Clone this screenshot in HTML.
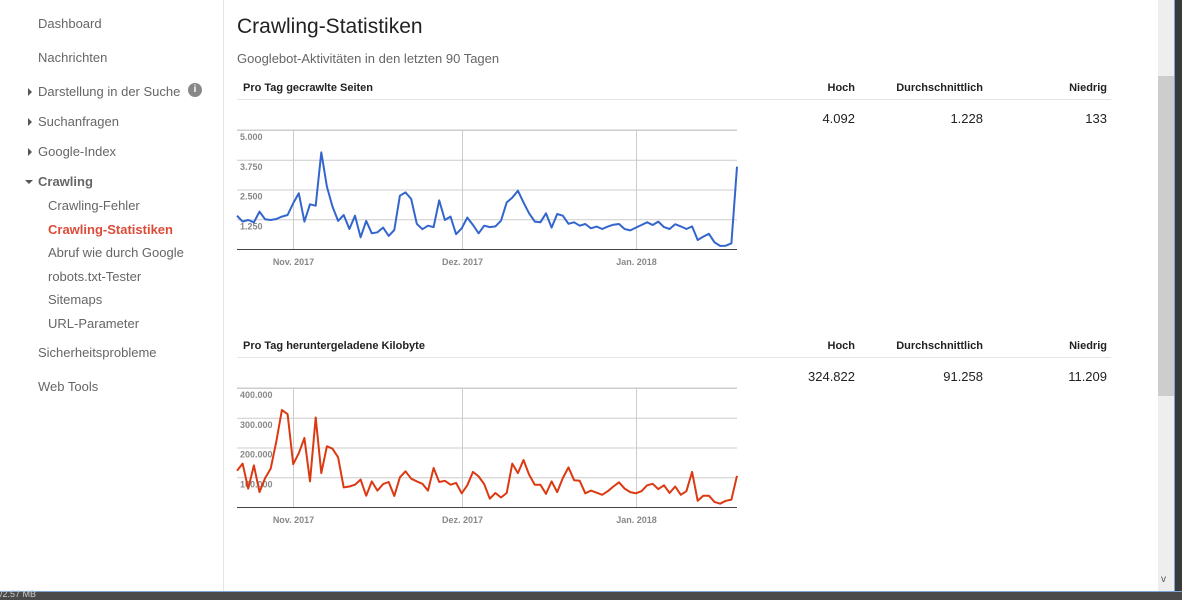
<!DOCTYPE html>
<html><head><meta charset="utf-8"><style>
body{margin:0;width:1182px;height:599px;overflow:hidden;background:#fff;font-family:"Liberation Sans",Arial,sans-serif;position:relative}
.abs{position:absolute}
.nav{color:#666;font-size:13px;white-space:nowrap}
.sub{color:#666;font-size:13px}
.hdr{font-size:11px;font-weight:bold;color:#222}
.num{font-size:13px;color:#222;text-align:right}
.tri{width:0;height:0;border-top:4px solid transparent;border-bottom:4px solid transparent;border-left:4px solid #555}
</style></head><body>
<div class="abs" style="left:0;top:0;width:223px;height:591px;border-right:1px solid #e5e5e5"></div>
<div class="abs nav" style="left:38px;top:16px">Dashboard</div>
<div class="abs nav" style="left:38px;top:50px">Nachrichten</div>
<div class="abs tri" style="left:28px;top:88px"></div>
<div class="abs nav" style="left:38px;top:84px">Darstellung in der Suche</div>
<div class="abs" style="left:188px;top:83px;width:14px;height:14px;border-radius:7px;background:#888;color:#fff;font-size:10px;font-weight:bold;text-align:center;line-height:14px">i</div>
<div class="abs tri" style="left:28px;top:118px"></div>
<div class="abs nav" style="left:38px;top:114px">Suchanfragen</div>
<div class="abs tri" style="left:28px;top:148px"></div>
<div class="abs nav" style="left:38px;top:144px">Google-Index</div>
<div class="abs" style="left:25px;top:180px;width:0;height:0;border-left:4px solid transparent;border-right:4px solid transparent;border-top:4px solid #555"></div>
<div class="abs nav" style="left:38px;top:174px;font-weight:bold">Crawling</div>
<div class="abs sub" style="left:48px;top:198px">Crawling-Fehler</div>
<div class="abs sub" style="left:48px;top:222px;color:#dd4b39;font-weight:bold">Crawling-Statistiken</div>
<div class="abs sub" style="left:48px;top:245px">Abruf wie durch Google</div>
<div class="abs sub" style="left:48px;top:269px">robots.txt-Tester</div>
<div class="abs sub" style="left:48px;top:292px">Sitemaps</div>
<div class="abs sub" style="left:48px;top:316px">URL-Parameter</div>
<div class="abs nav" style="left:38px;top:345px">Sicherheitsprobleme</div>
<div class="abs nav" style="left:38px;top:379px">Web Tools</div>

<div class="abs" style="left:237px;top:15px;font-size:21px;color:#222">Crawling-Statistiken</div>
<div class="abs" style="left:237px;top:51px;font-size:13px;color:#666">Googlebot-Aktivitäten in den letzten 90 Tagen</div>

<div class="abs hdr" style="left:243px;top:82px">Pro Tag gecrawlte Seiten</div>
<div class="abs hdr" style="left:780px;top:82px;width:75px;text-align:right">Hoch</div>
<div class="abs hdr" style="left:860px;top:82px;width:123px;text-align:right">Durchschnittlich</div>
<div class="abs hdr" style="left:1000px;top:82px;width:107px;text-align:right">Niedrig</div>
<div class="abs" style="left:237px;top:99px;width:874px;height:1px;background:#e5e5e5"></div>
<div class="abs num" style="left:780px;top:111px;width:75px">4.092</div>
<div class="abs num" style="left:860px;top:111px;width:123px">1.228</div>
<div class="abs num" style="left:1000px;top:111px;width:107px">133</div>

<div class="abs hdr" style="left:243px;top:340px">Pro Tag heruntergeladene Kilobyte</div>
<div class="abs hdr" style="left:780px;top:340px;width:75px;text-align:right">Hoch</div>
<div class="abs hdr" style="left:860px;top:340px;width:123px;text-align:right">Durchschnittlich</div>
<div class="abs hdr" style="left:1000px;top:340px;width:107px;text-align:right">Niedrig</div>
<div class="abs" style="left:237px;top:357px;width:874px;height:1px;background:#e5e5e5"></div>
<div class="abs num" style="left:780px;top:369px;width:75px">324.822</div>
<div class="abs num" style="left:860px;top:369px;width:123px">91.258</div>
<div class="abs num" style="left:1000px;top:369px;width:107px">11.209</div>

<svg class="abs" style="left:0;top:0" width="1182" height="599" id="charts"></svg>

<div class="abs" style="left:1158px;top:0;width:16px;height:591px;background:#eee"></div>
<div class="abs" style="left:1158px;top:76px;width:16px;height:320px;background:#cdcdcd"></div>
<div class="abs" style="left:1161px;top:574px;font-size:10px;color:#555">v</div>
<div class="abs" style="left:1174px;top:0;width:1px;height:591px;background:#7aa7d8"></div>
<div class="abs" style="left:1175px;top:0;width:7px;height:599px;background:#3a3a3a"></div>
<div class="abs" style="left:0;top:591px;width:1182px;height:8px;background:#4a4a4a;border-top:1px solid #7aa7d8"></div>
<div class="abs" style="left:0;top:589px;font-size:9px;color:#ccc">/2.57 MB</div>

<script>
const crawled = [1400,1150,1220,1120,1570,1250,1220,1260,1360,1430,1920,2340,1150,1880,1820,4060,2620,1780,1180,1430,840,1400,490,1180,660,700,900,550,800,2240,2380,2100,1060,830,980,920,2040,1220,1360,620,870,1320,1010,660,980,920,950,1190,1960,2160,2450,1960,1500,1150,1120,1500,900,1470,1400,1060,1120,980,1050,870,940,840,940,1020,1050,840,780,900,1010,1120,1010,1150,920,840,1040,950,840,950,380,520,640,280,130,140,240,3460];
const kilobytes = [122,146,62,140,50,97,129,220,326,312,144,181,232,86,301,114,204,196,167,66,69,75,92,38,86,55,77,84,37,100,120,95,86,78,55,131,84,88,75,81,46,73,118,103,77,28,47,32,47,146,114,158,109,75,75,44,86,50,97,133,90,88,46,55,48,41,53,69,83,62,50,46,53,73,78,60,73,47,69,41,53,118,21,38,38,17,11,21,25,105].map(v=>v*1000);
const ticks1 = [1250,2500,3750,5000];
const tickLabels1 = ["1.250","2.500","3.750","5.000"];
const ticks2 = [100000,200000,300000,400000];
const tickLabels2 = ["100.000","200.000","300.000","400.000"];
const monthLabels = ["Nov. 2017","Dez. 2017","Jan. 2018"];
const monthDayIndex = [10,40,71];

const svg = document.getElementById('charts');
const NS = 'http://www.w3.org/2000/svg';
function mk(tag, attrs){const e=document.createElementNS(NS,tag);for(const k in attrs)e.setAttribute(k,attrs[k]);svg.appendChild(e);return e;}

function drawChart(prefix, data, ticks, labels, max, top, bottom, color){
  const x0=237, x1=737;
  const xs = i => x0 + i*(x1-x0)/(data.length-1);
  const ys = v => bottom - v/max*(bottom-top);
  const tl = mk('line',{x1:x0,x2:x1,y1:top,y2:top,stroke:'#ccc','stroke-width':1});
  
  
  ticks.forEach((t,i)=>{
    const g = mk('line',{x1:x0,x2:x1,y1:ys(t)+0.5,y2:ys(t)+0.5,stroke:'#ccc','stroke-width':1});
    
    
    const tx = mk('text',{x:x0+3,y:ys(t)+10,'font-size':'9px','font-weight':'bold',fill:'#888','font-family':'Liberation Sans, sans-serif'});
    tx.textContent = labels[i];
    
    
  });
  monthDayIndex.forEach((d,i)=>{
    const xx = Math.round(xs(d))+0.5;
    const v = mk('line',{x1:xx,x2:xx,y1:top,y2:bottom,stroke:'#ccc','stroke-width':1});
    
    
    const tx = mk('text',{x:xx,y:bottom+16,'text-anchor':'middle','font-size':'9px','font-weight':'bold',fill:'#888','font-family':'Liberation Sans, sans-serif'});
    tx.textContent = monthLabels[i];
    
    
  });
  const ax = mk('line',{x1:x0,x2:x1,y1:bottom+0.5,y2:bottom+0.5,stroke:'#444','stroke-width':1});
  
  
  const pts = data.map((v,i)=>xs(i).toFixed(1)+','+ys(v).toFixed(1)).join(' ');
  const pl = mk('polyline',{points:pts,fill:'none',stroke:color,'stroke-width':2,'stroke-linejoin':'round'});
  
  
}
drawChart('chart1', crawled, ticks1, tickLabels1, 5000, 130, 249, '#3366cc');
drawChart('chart2', kilobytes, ticks2, tickLabels2, 400000, 388, 507, '#dc3912');
</script>
</body></html>
